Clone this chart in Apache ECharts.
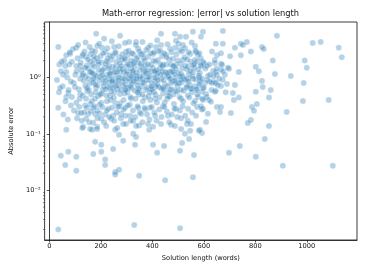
<!DOCTYPE html>
<html><head><meta charset="utf-8">
<script src="https://cdn.jsdelivr.net/npm/echarts@6/dist/echarts.min.js"></script>
<style>html,body{margin:0;padding:0;background:#fff}#c{width:365px;height:274px}</style>
</head><body><div id="c"></div>
<script>
const titleText = 'Math-error regression: |error| vs solution length';
const xName = 'Solution length (words)';
const yName = 'Absolute error';
const xTicks = [0, 200, 400, 600, 800, 1000];

// [solution length (words), absolute error]
const tailRight = [
[597,6.5],[674,6.7],[884,5.5],[647,4.0],[674,4.0],[721,3.4],[744,4.0],[752,3.8],[767,4.3],[826,3.5],
[833,3.2],[1023,4.1],[1054,4.3],[1124,3.4],[1136,2.3],[632,2.9],[651,2.5],[667,2.7],[702,2.4],[744,2.5],
[783,2.9],[868,2.0],[992,2.0],[1000,1.5],[802,1.55],[814,1.3],[736,1.26],[698,1.43],[876,1.16],[938,1.07],
[988,0.80],[826,0.87],[829,0.68],[860,0.60],[802,0.56],[853,0.44],[736,0.44],[717,0.40],[713,0.53],[985,0.385],
[1085,0.40],[806,0.34],[787,0.30],[795,0.256],[922,0.245],[705,0.235],[783,0.177],[771,0.156],[853,0.138],[609,0.163],
[837,0.081],[740,0.061],[698,0.046],[802,0.039],[907,0.027],[1101,0.027],[593,0.104],[585,0.118]
];
const midRight = [
[597,1.9],[601,1.8],[612,1.6],[636,1.31],[647,1.26],[667,1.37],[667,1.75],[643,2.05],[616,1.07],[640,0.84],
[632,0.80],[624,0.84],[647,0.80],[674,0.91],[690,0.77],[667,0.71],[647,0.58],[597,0.65],[609,0.51],[612,0.45],
[620,0.40],[628,0.37],[651,0.30],[667,0.30],[663,0.245],[597,0.28],[616,0.227],[597,0.40],[574,1.9],[643,1.82],
[671,1.68],[694,1.49],[585,1.21],[624,1.12],[651,1.12],[682,1.12],[605,0.80],[655,0.74],[721,0.74],[574,0.60],
[593,0.56],[643,0.56],[578,0.45],[574,0.30],[593,0.27]
];
const lowTail = [
[66,0.118],[132,0.133],[167,0.118],[186,0.133],[256,0.118],[271,0.096],[287,0.075],[326,0.10],[337,0.088],[333,0.064],
[178,0.072],[202,0.064],[202,0.048],[171,0.044],[248,0.054],[45,0.041],[74,0.048],[105,0.039],[62,0.028],[105,0.022],
[217,0.035],[217,0.028],[256,0.021],[271,0.023],[256,0.019],[349,0.018],[450,0.015],[558,0.017],[562,0.042],[508,0.050],
[516,0.069],[419,0.046],[403,0.064],[446,0.061],[543,0.081],[527,0.10],[547,0.113],[581,0.113],[388,0.118],[403,0.133],
[326,0.17],[287,0.15],[349,0.14],[473,0.145],[512,0.122],[535,0.15],[35,0.0020],[330,0.0024],[508,0.0021],[35,0.29],
[39,1.7],[35,3.5]
];
const coreUpperLeft = [
[105,3.4],[182,6.0],[213,4.9],[186,3.65],[205,3.4],[252,3.5],[275,5.5],[81,2.65],[66,2.5],[62,1.6],
[143,2.33],[128,2.4],[105,1.6],[120,1.6],[159,1.9],[174,2.06],[236,2.5],[240,2.06],[260,1.55],[66,1.26],
[54,1.12],[101,1.12],[132,1.16],[163,1.26],[202,1.26],[236,1.12],[275,1.26]
];
const coreLowerLeft = [
[120,0.95],[171,0.99],[217,0.87],[260,0.87],[140,0.71],[182,0.66],[236,0.66],[74,0.53],[66,0.45],[120,0.51],
[143,0.42],[190,0.47],[236,0.47],[275,0.51],[105,0.355],[159,0.34],[202,0.355],[256,0.355],[171,0.29],[229,0.28],
[112,0.235],[124,0.235],[151,0.225],[178,0.225],[217,0.22],[248,0.21],[279,0.225],[143,0.185],[171,0.157],[202,0.185],
[240,0.185],[128,0.127],[159,0.122],[186,0.122],[221,0.138],[264,0.127]
];
const coreUpperMid = [
[434,6.0],[488,6.0],[508,5.3],[531,5.3],[558,6.5],[589,5.3],[310,4.3],[337,4.3],[434,3.8],[492,4.5],
[519,3.8],[566,3.65],[384,3.4],[415,3.5],[469,3.25],[298,2.86],[345,3.25],[326,2.63],[364,2.63],[403,2.63],
[453,2.53],[508,3.1],[547,2.63],[577,2.53],[295,2.06],[337,2.15],[384,2.33],[422,2.06],[481,2.15],[519,2.06],
[566,2.06],[314,1.68],[357,1.75],[395,1.68],[442,1.68],[492,1.68],[539,1.55],[589,1.68],[326,1.26],[372,1.31],
[415,1.2],[469,1.26],[512,1.16],[558,1.26]
];
const coreLowerMid = [
[314,0.87],[364,0.95],[415,0.99],[473,0.80],[539,0.95],[585,0.80],[298,0.63],[345,0.63],[395,0.63],[442,0.66],
[492,0.58],[550,0.63],[318,0.42],[372,0.44],[411,0.42],[461,0.47],[512,0.42],[566,0.385],[295,0.29],[345,0.29],
[391,0.29],[442,0.31],[492,0.28],[539,0.28],[589,0.31],[314,0.21],[357,0.225],[411,0.21],[461,0.21],[512,0.19],
[570,0.21],[298,0.15],[337,0.138],[384,0.15],[434,0.15],[488,0.138],[550,0.15]
];
const coreDenseA = [
[88,1.9],[95,0.8],[110,2.2],[115,0.62],[125,1.35],[130,0.48],[137,2.9],[142,1.05],[148,0.57],[152,1.45],
[156,0.78],[160,2.6],[165,0.38],[168,1.7],[172,0.92],[176,1.15],[180,0.55],[184,2.2],[188,0.72],[192,1.38],
[195,0.33],[198,1.02],[203,1.85],[207,0.6],[210,0.82],[214,1.5],[218,2.8],[222,0.48],[225,1.12],[228,0.68],
[232,1.62],[235,0.95],[238,0.4],[242,1.3],[246,2.4],[249,0.78],[253,0.55],[257,1.08],[261,1.9],[265,0.62],
[268,0.88],[272,1.42],[276,0.35],[280,1.0],[283,2.1],[286,0.72],[290,1.25],[293,0.52],[297,0.9],[300,1.6],
[304,2.5],[307,0.66],[311,1.12],[315,0.45],[318,1.45],[322,0.78],[326,0.98],[330,1.9],[333,0.58],[337,1.22],
[341,0.84],[344,2.3],[348,0.5],[352,1.05],[356,1.6],[360,0.7],[363,0.38],[367,1.15],[371,2.0],[375,0.6],
[378,0.9],[382,1.35],[386,0.47],[390,1.08],[394,2.7],[398,0.78],[402,1.5],[406,0.56],[410,0.85],[414,1.9],
[418,0.36],[422,1.2],[426,0.68],[430,1.45],[434,0.92],[438,2.4],[442,0.52],[446,1.1],[450,0.76],[454,1.7],
[458,0.42],[462,1.02],[466,2.1],[470,0.6],[474,1.3],[478,0.86],[482,0.5],[486,1.55],[490,0.98],[494,2.6],
[498,0.7],[502,1.2],[506,0.45],[510,1.75],[514,0.82],[518,1.05],[522,0.58],[526,2.3],[530,0.9],[534,1.4],
[538,0.48],[542,1.15],[546,0.74],[550,1.9],[554,0.55],[558,0.95],[562,1.5],[566,0.7],[570,2.8],[575,0.5],
[580,1.1],[585,0.88],[590,1.6],[596,0.42]
];
const coreDenseB = [
[100,0.68],[106,1.3],[118,0.42],[122,1.85],[134,0.88],[139,0.32],[145,1.62],[150,2.1],[154,0.6],[158,1.25],
[163,0.5],[167,3.0],[170,0.82],[174,1.55],[178,0.42],[183,1.08],[186,0.26],[190,1.7],[194,0.9],[199,2.4],
[204,0.52],[208,1.35],[212,0.7],[216,0.98],[220,1.75],[224,0.38],[227,2.2],[231,0.82],[236,1.18],[240,0.56],
[244,0.92],[248,1.55],[251,0.44],[255,2.7],[259,0.7],[263,1.25],[266,0.3],[270,1.0],[274,1.8],[278,0.6],
[282,0.84],[285,1.4],[289,0.4],[292,2.2],[296,0.75],[299,1.15],[303,0.55],[306,1.72],[310,0.95],[313,0.33],
[317,2.0],[320,0.64],[324,1.3],[328,0.86],[332,1.55],[335,0.42],[339,1.08],[343,0.72],[346,1.85],[350,0.6],
[354,0.97],[358,2.6],[361,0.5],[365,1.4],[369,0.8],[373,0.27],[376,1.2],[380,0.66],[384,1.7],[388,0.9],
[392,0.4],[396,1.28],[400,0.62],[404,2.0],[408,1.0],[412,0.5],[416,1.35],[420,0.75],[424,2.9],[428,0.44],
[432,1.12],[436,0.64],[440,1.58],[444,0.9],[448,0.36],[452,1.25],[456,2.3],[460,0.7],[464,1.05],[468,0.46],
[472,1.7],[476,0.62],[480,1.25],[484,0.34],[488,0.88],[492,1.4],[496,0.56],[500,2.0],[504,0.78],[508,1.05],
[512,0.6],[516,1.45],[520,0.38],[524,0.95],[528,1.62],[532,0.66],[536,2.1],[540,0.86],[544,0.44],[548,1.3],
[552,0.63],[556,1.05],[560,0.35],[564,1.75],[568,0.92],[572,0.62],[578,1.4],[582,0.74],[588,2.2],[594,0.95],
[600,0.66],[606,1.45],[615,0.9],[622,1.7],[630,0.6],[638,1.05],[650,1.45],[660,0.95],[675,1.3],[685,0.55]
];
const coreDenseC = [
[140,1.5],[152,0.95],[166,1.2],[179,0.75],[191,1.9],[205,1.1],[219,0.62],[230,1.45],[244,0.85],[255,1.25],
[267,0.72],[279,1.6],[291,0.95],[302,1.3],[316,0.7],[327,1.75],[339,0.95],[351,1.35],[362,0.82],[374,1.65],
[385,1.02],[397,0.7],[409,1.3],[421,0.9],[433,1.7],[445,0.62],[457,1.2],[469,0.95],[481,1.6],[493,0.8],
[147,0.65],[173,2.4],[198,0.5],[223,1.95],[247,0.66],[271,2.3],[295,0.6],[319,1.05],[343,0.55],[367,2.2],
[391,0.55],[415,0.7],[439,1.28],[463,0.55],[487,1.15],[511,0.9],[535,0.7],[559,1.65],[583,1.0],[128,1.1]
];
const coreLowBand = [
[84,0.32],[96,0.26],[108,0.19],[116,0.3],[126,0.17],[135,0.24],[146,0.29],[155,0.16],[162,0.25],[175,0.31],
[187,0.19],[196,0.23],[206,0.3],[213,0.16],[224,0.26],[233,0.2],[244,0.29],[252,0.17],[262,0.24],[271,0.31],
[278,0.19],[288,0.27],[296,0.21],[305,0.32],[316,0.17],[325,0.26],[334,0.2],[343,0.31],[352,0.24],[362,0.16],
[370,0.29],[380,0.22],[389,0.18],[398,0.3],[408,0.24],[417,0.17],[427,0.27],[436,0.2],[447,0.3],[457,0.25],
[466,0.16],[476,0.22],[486,0.28],[497,0.2],[507,0.26],[518,0.31],[528,0.21],[538,0.17],[555,0.24]
];
const coreHighBand = [
[92,3.2],[112,3.8],[131,2.6],[141,4.2],[157,3.5],[178,2.9],[194,4.0],[209,2.7],[226,3.3],[243,4.4],
[258,2.8],[270,3.6],[284,2.6],[294,4.1],[308,3.0],[321,2.7],[336,3.8],[350,2.9],[362,4.3],[377,3.1],
[393,3.7],[407,2.8],[419,4.6],[431,3.0],[446,2.7],[459,3.9],[475,2.8],[489,3.4],[502,4.0],[515,2.9],
[527,3.3],[541,2.8],[553,4.2],[568,3.0],[583,2.7]
];
const shortSolutions = [
[30,0.9],[38,0.55],[45,1.3],[52,0.7],[58,2.0],[63,0.38],[70,1.0],[75,0.6],[78,1.7],[84,0.85],
[88,0.45],[55,0.22],[72,0.18],[80,2.8],[48,1.9],[42,0.65]
];

const points = [].concat(tailRight, midRight, lowTail, coreUpperLeft, coreLowerLeft,
  coreUpperMid, coreLowerMid, coreDenseA, coreDenseB, coreDenseC, coreLowBand, coreHighBand, shortSolutions);

const X_MIN = -18, X_MAX = 1195, Y_MIN = 0.0013, Y_MAX = 9.7;
const minorVals = [];
for (let e = -3; e <= 0; e++) for (let m = 2; m <= 9; m++) {
  const v = m * Math.pow(10, e);
  if (v > Y_MIN && v < Y_MAX) minorVals.push(v);
}
const SUP = {'-':'\u207B','0':'\u2070','1':'\u00B9','2':'\u00B2','3':'\u00B3'};
const FONT = 'DejaVu Sans';

const chart = echarts.init(document.getElementById('c'), null, {renderer: 'canvas'});
chart.setOption({
  animation: false,
  backgroundColor: '#fff',
  textStyle: {fontFamily: FONT},
  grid: {left: 44, right: 8, top: 22, bottom: 34, show: true, borderColor: '#262626', borderWidth: 0.9, backgroundColor: 'transparent'},
  graphic: [{type: 'text', x: 200.5, y: 13.5, style: {text: titleText, fontFamily: FONT, fontSize: 8.3, fill: '#111', align: 'center', verticalAlign: 'middle'}}],
  xAxis: {
    type: 'value', min: X_MIN, max: X_MAX,
    name: xName, nameLocation: 'middle', nameGap: 14,
    nameTextStyle: {fontFamily: FONT, fontSize: 6.7, color: '#111'},
    axisLine: {show: true, lineStyle: {color: '#262626', width: 0.9}},
    axisTick: {show: true, length: 2.5, customValues: xTicks, lineStyle: {color: '#262626', width: 0.8}},
    axisLabel: {customValues: xTicks, fontFamily: FONT, fontSize: 6.7, color: '#111', margin: 3,
      formatter: function (v) { return String(v); }},
    splitLine: {show: false}
  },
  yAxis: {
    type: 'log', logBase: 10, min: Y_MIN, max: Y_MAX,
    name: yName, nameLocation: 'middle', nameGap: 26,
    nameTextStyle: {fontFamily: FONT, fontSize: 6.7, color: '#111'},
    axisLine: {show: true, lineStyle: {color: '#262626', width: 0.9}},
    axisTick: {show: true, length: 2.5, lineStyle: {color: '#262626', width: 0.8}},
    axisLabel: {
      fontFamily: FONT, fontSize: 6.7, color: '#111', margin: 4,
      showMinLabel: false, showMaxLabel: false,
      formatter: function (v) {
        const l = Math.log10(v), e = Math.round(l);
        if (Math.abs(l - e) > 1e-6) return '';
        return '10' + String(e).split('').map(c => SUP[c]).join('');
      }
    },
    splitLine: {show: false}
  },
  series: [
    {
      type: 'scatter', data: points, symbol: 'circle', symbolSize: 6,
      progressive: 0, large: false,
      itemStyle: {color: '#1f77b4', borderColor: '#ffffff', borderWidth: 0.6, opacity: 0.33}
    },
    {
      type: 'custom', silent: true, clip: false, z: 5,
      data: minorVals.map(v => [X_MIN, v]),
      renderItem: function (params, api) {
        const p = api.coord([api.value(0), api.value(1)]);
        return {type: 'line', shape: {x1: p[0] - 1.6, y1: p[1], x2: p[0], y2: p[1]}, style: {stroke: '#262626', lineWidth: 0.6}};
      }
    }
  ]
});
</script></body></html>
